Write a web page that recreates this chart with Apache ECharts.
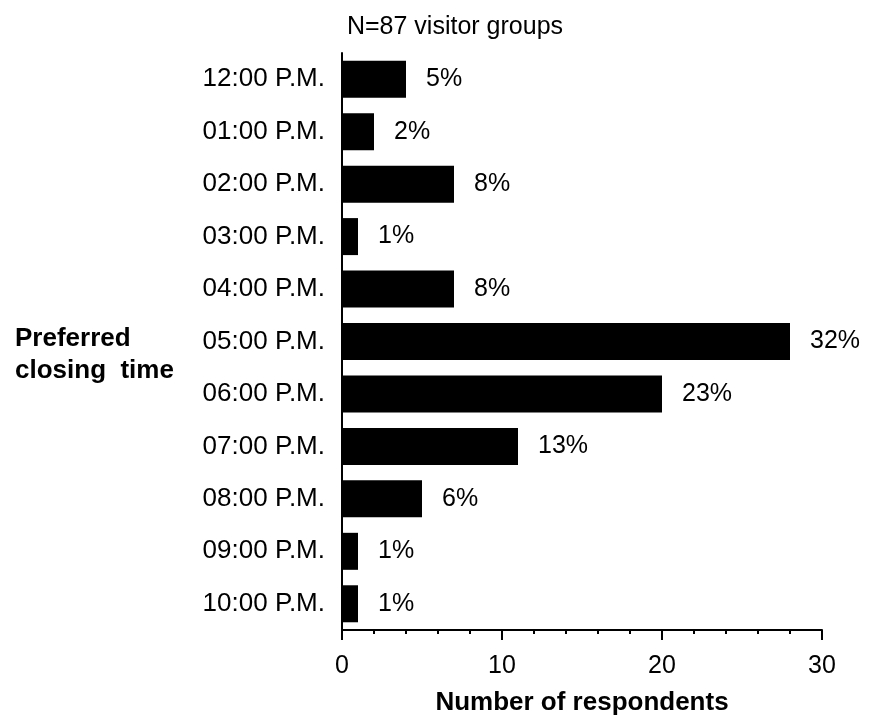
<!DOCTYPE html>
<html><head><meta charset="utf-8">
<script src="https://cdn.jsdelivr.net/npm/echarts@6/dist/echarts.min.js"></script>
<style>html,body{margin:0;padding:0;background:#fff}#c{width:869px;height:715px}</style>
</head><body><div id="c"></div>
<script>
const categories = ["12:00 P.M.","01:00 P.M.","02:00 P.M.","03:00 P.M.","04:00 P.M.","05:00 P.M.","06:00 P.M.","07:00 P.M.","08:00 P.M.","09:00 P.M.","10:00 P.M."];
const respondents = [4,2,7,1,7,28,20,11,5,1,1];
const percentLabels = ["5%","2%","8%","1%","8%","32%","23%","13%","6%","1%","1%"];
const xTicks = [0,10,20,30];
const FONT = "Liberation Sans";
const chart = echarts.init(document.getElementById('c'));
chart.setOption({
  animation:false,
  textStyle:{fontFamily:FONT},
  title:{text:"N=87 visitor groups",left:450,top:10,textAlign:'center',
    textStyle:{fontFamily:FONT,fontSize:25,fontWeight:'normal',color:'#000'}},
  grid:{left:342,right:47,top:53,bottom:85,containLabel:false,outerBoundsMode:'none'},
  xAxis:{type:'value',min:xTicks[0],max:xTicks[xTicks.length-1],interval:10,
    axisLine:{show:true,lineStyle:{color:'#000',width:2}},
    axisTick:{show:true,length:10,lineStyle:{color:'#000',width:2}},
    minorTick:{show:true,splitNumber:5,length:4,lineStyle:{color:'#000',width:2}},
    splitLine:{show:false},
    axisLabel:{fontFamily:FONT,fontSize:25,color:'#000',margin:24},
    name:"Number of respondents",nameLocation:'middle',nameGap:60,
    nameTextStyle:{fontFamily:FONT,fontSize:26,fontWeight:'bold',color:'#000'}},
  yAxis:{type:'category',data:categories,inverse:true,
    axisLine:{show:true,lineStyle:{color:'#000',width:2}},
    axisTick:{show:false},
    axisLabel:{fontFamily:FONT,fontSize:26,color:'#000',margin:17}},
  graphic:[{type:'text',left:15,top:323,style:{
    text:"Preferred\nclosing  time",font:"bold 26px 'Liberation Sans'",fill:'#000',lineHeight:32}}],
  series:[{type:'bar',data:respondents,barWidth:37,
    itemStyle:{color:'#000'},
    label:{show:true,position:'right',distance:20,fontFamily:FONT,fontSize:25,color:'#000',
      formatter:p=>percentLabels[p.dataIndex]}}]
});
</script></body></html>
